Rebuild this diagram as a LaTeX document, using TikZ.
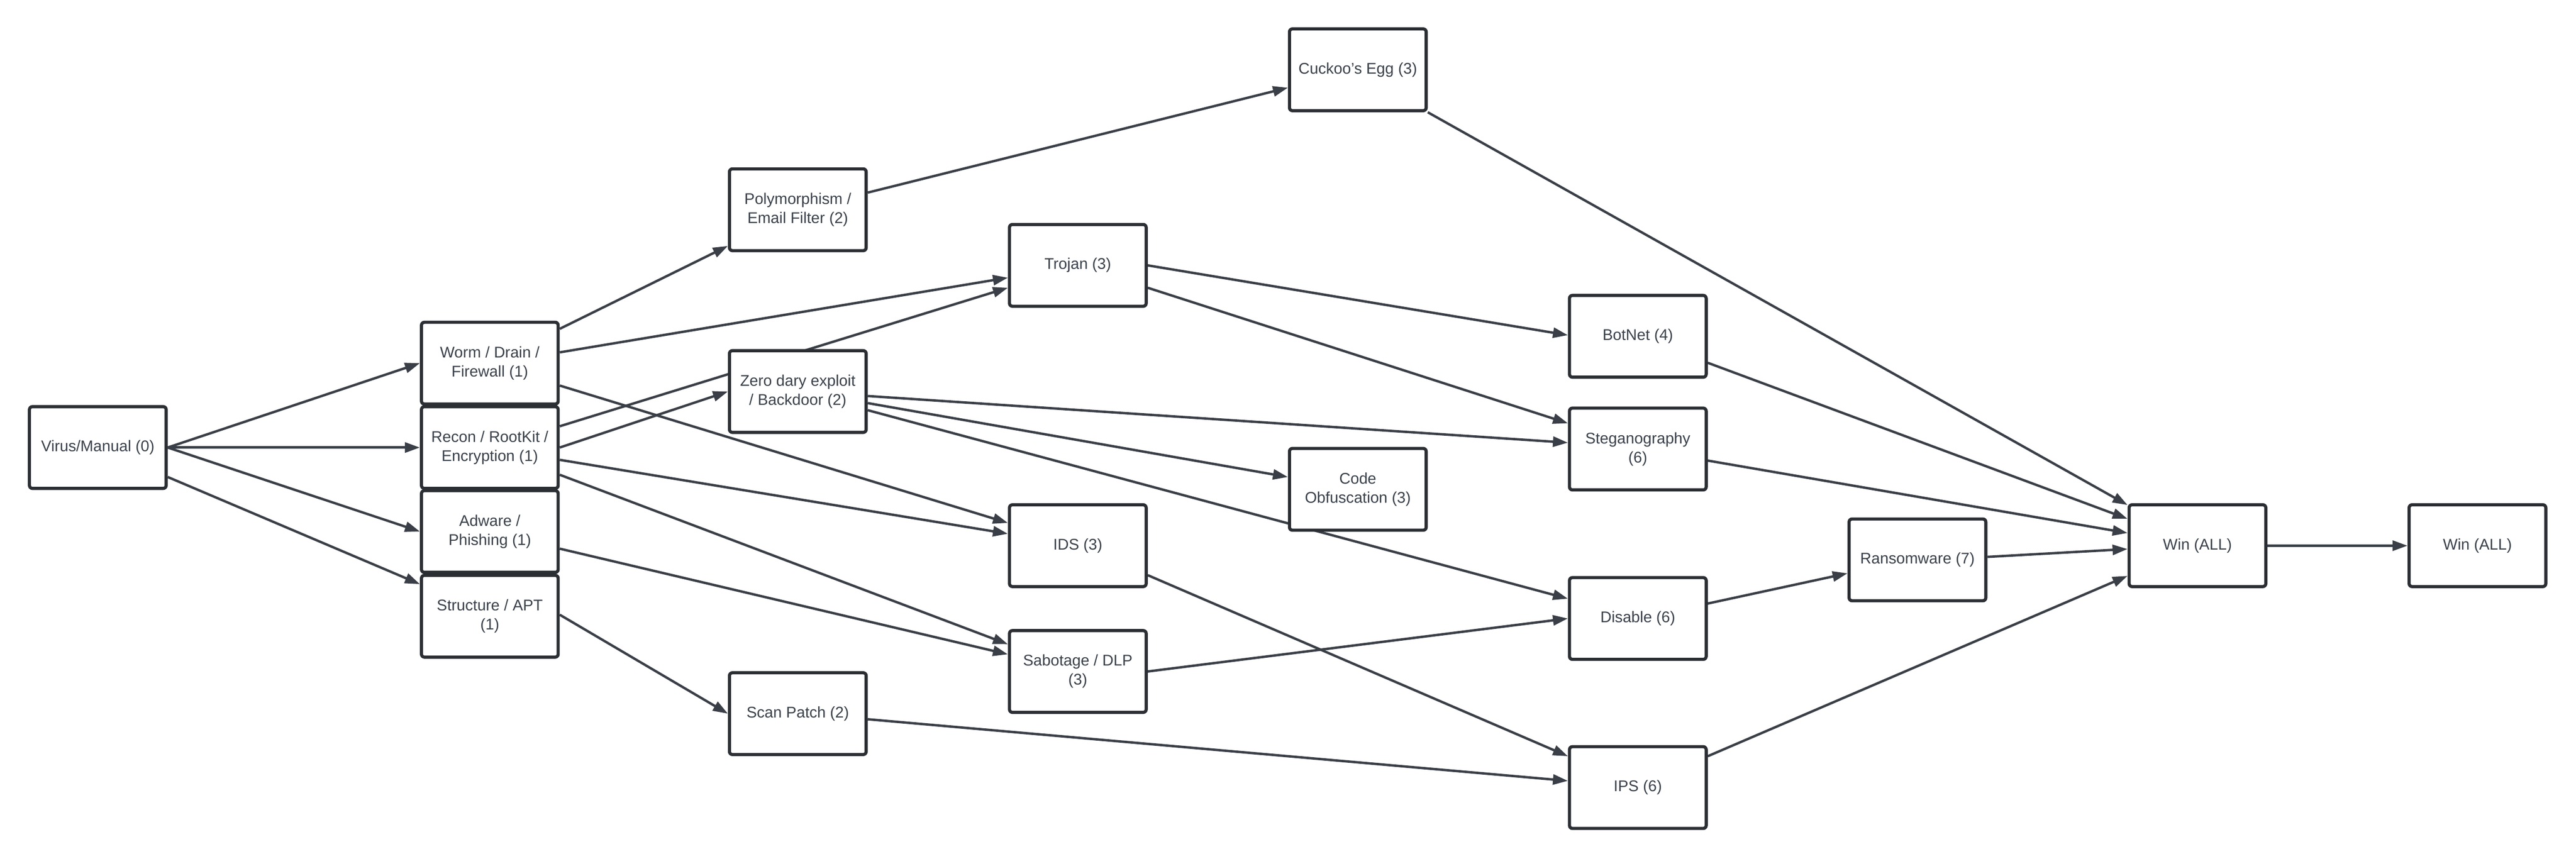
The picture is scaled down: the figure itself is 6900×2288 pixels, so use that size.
\documentclass[tikz,border=0pt]{standalone}
\usepackage{fontspec}
\setmainfont{Liberation Sans}
\usetikzlibrary{arrows.meta}
\definecolor{textc}{HTML}{3A414A}
\definecolor{linec}{HTML}{3A3F47}
\definecolor{borderc}{HTML}{2B2E33}
\pgfdeclarelayer{bg}
\pgfsetlayers{bg,main}
\begin{document}
\begin{tikzpicture}[x=0.01cm,y=-0.01cm,
  box/.style={draw=borderc, line width=2.4pt, fill=white, rounded corners=0.08cm,
    minimum width=3.66cm, minimum height=2.19cm, inner sep=0pt, align=center,
    text=textc, font=\fontsize{11.8pt}{14.5pt}\selectfont},
  arr/.style={draw=linec, line width=1.85pt, -{Triangle[length=0.40cm,width=0.27cm]}}]
\useasboundingbox (0,0) rectangle (6900,2288);
% nodes
\node[box] (virus)   at (262,1199)  {Virus/Manual (0)};
\node[box] (worm)    at (1312,973)  {Worm / Drain /\\Firewall (1)};
\node[box] (recon)   at (1312,1199) {Recon / RootKit /\\Encryption (1)};
\node[box] (adware)  at (1312,1424) {Adware /\\Phishing (1)};
\node[box] (struct)  at (1312,1651) {Structure / APT\\(1)};
\node[box] (poly)    at (2137,562)  {Polymorphism /\\Email Filter (2)};
\node[box] (zero)    at (2137,1049) {Zero dary exploit\\/ Backdoor (2)};
\node[box] (scan)    at (2137,1912) {Scan Patch (2)};
\node[box] (trojan)  at (2887,711)  {Trojan (3)};
\node[box] (ids)     at (2887,1462) {IDS (3)};
\node[box] (sabot)   at (2887,1799) {Sabotage / DLP\\(3)};
\node[box] (cuckoo)  at (3637,187)  {Cuckoo's Egg (3)};
\node[box] (code)    at (3637,1311) {Code\\Obfuscation (3)};
\node[box] (botnet)  at (4387,901)  {BotNet (4)};
\node[box] (steg)    at (4387,1203) {Steganography\\(6)};
\node[box] (disable) at (4387,1657) {Disable (6)};
\node[box] (ips)     at (4387,2110) {IPS (6)};
\node[box] (ransom)  at (5136,1500) {Ransomware (7)};
\node[box] (win)     at (5886,1462) {Win (ALL)};
\node[box] (win2)    at (6636,1462) {Win (ALL)};
% connectors
\begin{pgfonlayer}{bg}
\draw[arr] (virus.east) -- (worm.west);
\draw[arr] (virus.east) -- (recon.west);
\draw[arr] (virus.east) -- (adware.west);
\draw[arr] ([shift={(0,79)}]virus.east) -- ([shift={(0,-86)}]struct.west);
\draw[arr] ([shift={(0,-92)}]worm.east) -- ([shift={(0,97)}]poly.west);
\draw[arr] ([shift={(0,-29)}]worm.east) -- ([shift={(0,33)}]trojan.west);
\draw[arr] ([shift={(0,60)}]worm.east) -- ([shift={(0,-61)}]ids.west);
\draw[arr] ([shift={(0,-57)}]recon.east) -- ([shift={(0,60)}]trojan.west);
\draw[arr] (recon.east) -- (zero.west);
\draw[arr] ([shift={(0,33)}]recon.east) -- ([shift={(0,-32)}]ids.west);
\draw[arr] ([shift={(0,73)}]recon.east) -- ([shift={(0,-73)}]sabot.west);
\draw[arr] ([shift={(0,46)}]adware.east) -- ([shift={(0,-46)}]sabot.west);
\draw[arr] ([shift={(0,-4)}]struct.east) -- (scan.west);
\draw[arr] ([shift={(0,-46)}]poly.east) -- ([shift={(0,48)}]cuckoo.west);
\draw[arr] ([shift={(0,12)}]zero.east) -- ([shift={(0,-17)}]steg.west);
\draw[arr] ([shift={(0,31)}]zero.east) -- ([shift={(0,-33)}]code.west);
\draw[arr] ([shift={(0,50)}]zero.east) -- ([shift={(0,-53)}]disable.west);
\draw[arr] (trojan.east) -- ([shift={(0,-3)}]botnet.west);
\draw[arr] ([shift={(0,60)}]trojan.east) -- ([shift={(0,-69)}]steg.west);
\draw[arr] ([shift={(0,79)}]ids.east) -- ([shift={(0,-84)}]ips.west);
\draw[arr] (sabot.east) -- (disable.west);
\draw[arr] ([shift={(0,15)}]scan.east) -- ([shift={(0,-18)}]ips.west);
\draw[arr] (cuckoo.south east) -- ([shift={(0,-109)}]win.west);
\draw[arr] ([shift={(0,71)}]botnet.east) -- ([shift={(0,-72)}]win.west);
\draw[arr] ([shift={(0,31)}]steg.east) -- ([shift={(0,-34)}]win.west);
\draw[arr] ([shift={(0,-40)}]disable.east) -- ([shift={(0,36)}]ransom.west);
\draw[arr] ([shift={(0,-84)}]ips.east) -- ([shift={(0,81)}]win.west);
\draw[arr] ([shift={(0,-8)}]ransom.east) -- ([shift={(0,9)}]win.west);
\draw[arr] (win.east) -- (win2.west);
\end{pgfonlayer}
\end{tikzpicture}
\end{document}
